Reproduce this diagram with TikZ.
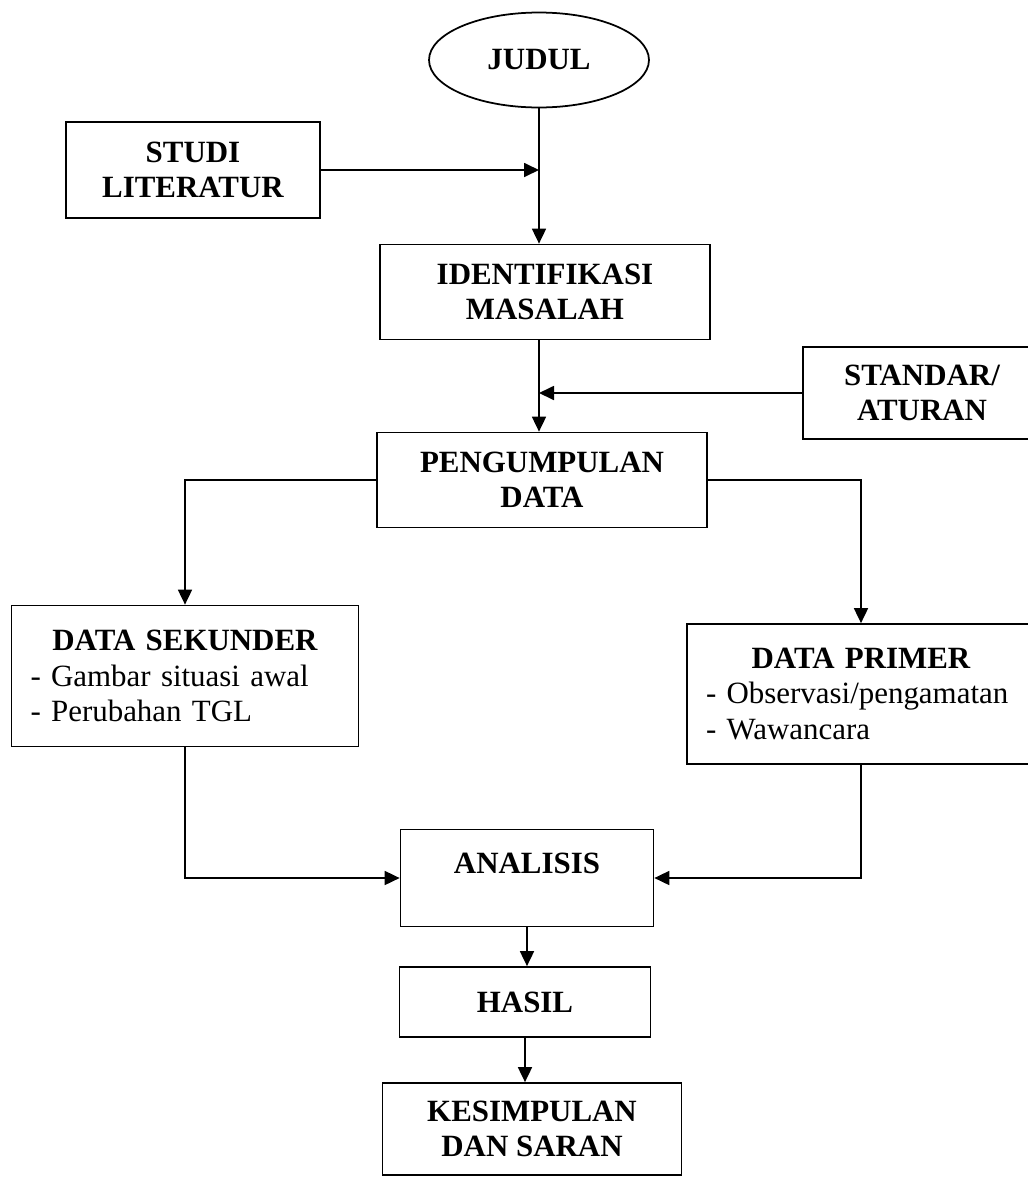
\documentclass[tikz,border=0pt]{standalone}
\usepackage{fontspec}
\setmainfont{Liberation Serif}
\usepackage{tikz}
\usetikzlibrary{arrows.meta,positioning,shapes.geometric}
\newcommand{\butir}[1]{\leavevmode\hbox to\hsize{\mdseries- #1\hfil}}

\begin{document}
\begin{tikzpicture}[
    x=0.02cm,y=-0.02cm,
    box/.style={draw,line width=1pt,align=center,inner sep=0pt,
                font=\fontsize{17.6pt}{20pt}\selectfont\bfseries},
    datbox/.style={box,inner xsep=0.38cm,inner ysep=0pt},
    arrow/.style={-{Triangle[length=0.3cm,width=0.28cm]},line width=1pt}]

    \useasboundingbox (0,0) rectangle (1028,1177);

    \node[box,ellipse,minimum width=4.4cm,minimum height=1.9cm] (judul)
      at (539,60) {JUDUL};
    \node[box,minimum width=5.08cm,minimum height=1.92cm] (studi)
      at (193,170) {STUDI\\LITERATUR};
    \node[box,minimum width=6.6cm,minimum height=1.9cm] (ident)
      at (545,292) {IDENTIFIKASI\\MASALAH};
    \node[box,minimum width=4.76cm,minimum height=1.84cm] (standar)
      at (922,393) {STANDAR/\\ATURAN};
    \node[box,minimum width=6.6cm,minimum height=1.9cm] (kumpul)
      at (542,480) {PENGUMPULAN\\DATA};

    \node[datbox,text width=6.18cm,minimum height=2.82cm] (sekunder)
      at (185,676) {DATA SEKUNDER\\\butir{Gambar situasi awal}\\\butir{Perubahan TGL}};
    \node[datbox,text width=6.2cm,minimum height=2.8cm] (primer)
      at (861,694) {DATA PRIMER\\\butir{Observasi/pengamatan}\\\butir{Wawancara}};

    \node[box,minimum width=5.06cm,minimum height=1.94cm,text depth=0.6cm] (analisis)
      at (527,878) {ANALISIS};
    \node[box,minimum width=5.02cm,minimum height=1.4cm] (hasil)
      at (525,1002) {HASIL};
    \node[box,minimum width=5.98cm,minimum height=1.84cm] (simpul)
      at (532,1129) {KESIMPULAN\\DAN SARAN};

    \draw[arrow] (judul.south) -- (judul.south |- ident.north);
    \draw[arrow] (studi.east) -- (studi.east -| judul.south);
    \draw[arrow] (ident.south -| judul.south) -- (kumpul.north -| judul.south);
    \draw[arrow] (standar.west) -- (standar.west -| judul.south);
    \draw[arrow] (kumpul.west) -| (sekunder.north);
    \draw[arrow] (kumpul.east) -| (primer.north);
    \draw[arrow] (sekunder.south) |- (analisis.west);
    \draw[arrow] (primer.south) |- (analisis.east);
    \draw[arrow] (analisis.south) -- (analisis.south |- hasil.north);
    \draw[arrow] (hasil.south) -- (hasil.south |- simpul.north);
  \end{tikzpicture}
\end{document}
